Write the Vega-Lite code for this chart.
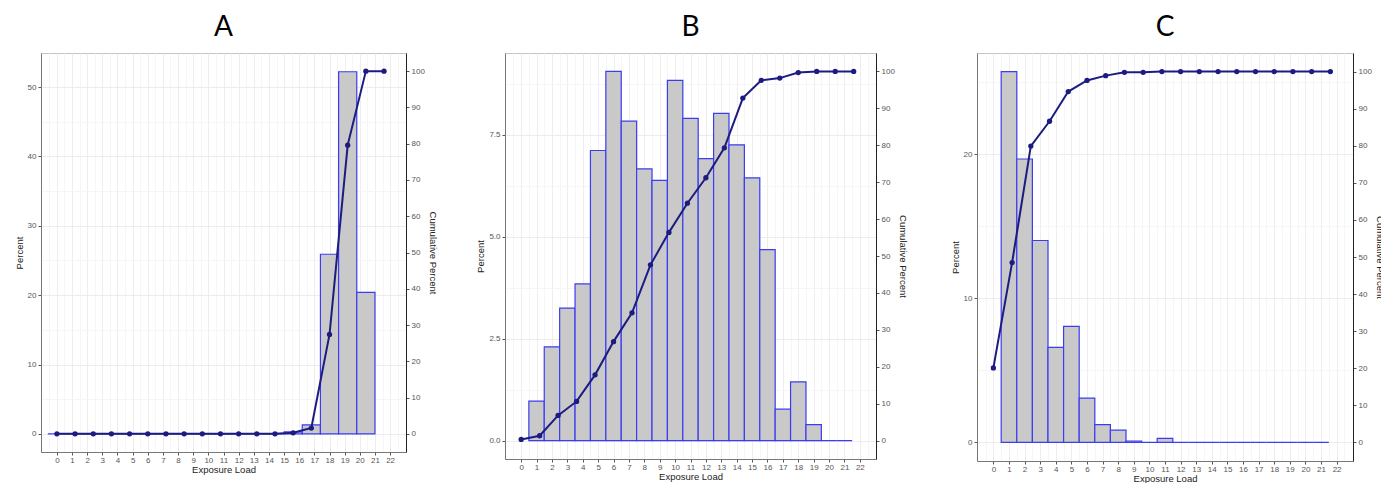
{
  "$schema": "https://vega.github.io/schema/vega-lite/v6.json",
  "padding": {"left": 13, "top": 13, "right": 0, "bottom": 0},
  "spacing": 37,
  "background": "white",
  "datasets": {
    "A_bar": [
      {"lo": -0.6, "hi": 0.6, "pct": 0}, {"lo": 0.6, "hi": 1.8, "pct": 0}, {"lo": 1.8, "hi": 3.0, "pct": 0},
      {"lo": 3.0, "hi": 4.2, "pct": 0}, {"lo": 4.2, "hi": 5.4, "pct": 0}, {"lo": 5.4, "hi": 6.6, "pct": 0},
      {"lo": 6.6, "hi": 7.8, "pct": 0}, {"lo": 7.8, "hi": 9.0, "pct": 0}, {"lo": 9.0, "hi": 10.2, "pct": 0},
      {"lo": 10.2, "hi": 11.4, "pct": 0}, {"lo": 11.4, "hi": 12.6, "pct": 0}, {"lo": 12.6, "hi": 13.8, "pct": 0},
      {"lo": 13.8, "hi": 15.0, "pct": 0}, {"lo": 15.0, "hi": 16.2, "pct": 0.3}, {"lo": 16.2, "hi": 17.4, "pct": 1.3},
      {"lo": 17.4, "hi": 18.6, "pct": 25.9}, {"lo": 18.6, "hi": 19.8, "pct": 52.2}, {"lo": 19.8, "hi": 21.0, "pct": 20.4}
    ],
    "A_cum": [
      {"load": 0, "cum": 0}, {"load": 1.2, "cum": 0}, {"load": 2.4, "cum": 0}, {"load": 3.6, "cum": 0},
      {"load": 4.8, "cum": 0}, {"load": 6.0, "cum": 0}, {"load": 7.2, "cum": 0}, {"load": 8.4, "cum": 0},
      {"load": 9.6, "cum": 0}, {"load": 10.8, "cum": 0}, {"load": 12.0, "cum": 0}, {"load": 13.2, "cum": 0},
      {"load": 14.4, "cum": 0}, {"load": 15.6, "cum": 0.3}, {"load": 16.8, "cum": 1.6}, {"load": 18.0, "cum": 27.4},
      {"load": 19.2, "cum": 79.6}, {"load": 20.4, "cum": 100}, {"load": 21.6, "cum": 100}
    ],
    "B_bar": [
      {"lo": 0.5, "hi": 1.5, "pct": 0.97}, {"lo": 1.5, "hi": 2.5, "pct": 2.3}, {"lo": 2.5, "hi": 3.5, "pct": 3.25},
      {"lo": 3.5, "hi": 4.5, "pct": 3.84}, {"lo": 4.5, "hi": 5.5, "pct": 7.11}, {"lo": 5.5, "hi": 6.5, "pct": 9.05},
      {"lo": 6.5, "hi": 7.5, "pct": 7.83}, {"lo": 7.5, "hi": 8.5, "pct": 6.66}, {"lo": 8.5, "hi": 9.5, "pct": 6.38},
      {"lo": 9.5, "hi": 10.5, "pct": 8.83}, {"lo": 10.5, "hi": 11.5, "pct": 7.9}, {"lo": 11.5, "hi": 12.5, "pct": 6.91},
      {"lo": 12.5, "hi": 13.5, "pct": 8.02}, {"lo": 13.5, "hi": 14.5, "pct": 7.25}, {"lo": 14.5, "hi": 15.5, "pct": 6.44},
      {"lo": 15.5, "hi": 16.5, "pct": 4.68}, {"lo": 16.5, "hi": 17.5, "pct": 0.77}, {"lo": 17.5, "hi": 18.5, "pct": 1.44},
      {"lo": 18.5, "hi": 19.5, "pct": 0.39}, {"lo": 19.5, "hi": 20.5, "pct": 0}, {"lo": 20.5, "hi": 21.5, "pct": 0}
    ],
    "B_cum": [
      {"load": 0, "cum": 0.3}, {"load": 1.2, "cum": 1.3}, {"load": 2.4, "cum": 6.8}, {"load": 3.6, "cum": 10.6},
      {"load": 4.8, "cum": 17.8}, {"load": 6.0, "cum": 26.8}, {"load": 7.2, "cum": 34.6}, {"load": 8.4, "cum": 47.6},
      {"load": 9.6, "cum": 56.4}, {"load": 10.8, "cum": 64.3}, {"load": 12.0, "cum": 71.2}, {"load": 13.2, "cum": 79.3},
      {"load": 14.4, "cum": 92.8}, {"load": 15.6, "cum": 97.6}, {"load": 16.8, "cum": 98.2}, {"load": 18.0, "cum": 99.7},
      {"load": 19.2, "cum": 100}, {"load": 20.4, "cum": 100}, {"load": 21.6, "cum": 100}
    ],
    "C_bar": [
      {"lo": 0.5, "hi": 1.5, "pct": 25.75}, {"lo": 1.5, "hi": 2.5, "pct": 19.68}, {"lo": 2.5, "hi": 3.5, "pct": 14.02},
      {"lo": 3.5, "hi": 4.5, "pct": 6.6}, {"lo": 4.5, "hi": 5.5, "pct": 8.06}, {"lo": 5.5, "hi": 6.5, "pct": 3.08},
      {"lo": 6.5, "hi": 7.5, "pct": 1.24}, {"lo": 7.5, "hi": 8.5, "pct": 0.85}, {"lo": 8.5, "hi": 9.5, "pct": 0.1},
      {"lo": 9.5, "hi": 10.5, "pct": 0}, {"lo": 10.5, "hi": 11.5, "pct": 0.28}, {"lo": 11.5, "hi": 12.5, "pct": 0},
      {"lo": 12.5, "hi": 13.5, "pct": 0}, {"lo": 13.5, "hi": 14.5, "pct": 0}, {"lo": 14.5, "hi": 15.5, "pct": 0},
      {"lo": 15.5, "hi": 16.5, "pct": 0}, {"lo": 16.5, "hi": 17.5, "pct": 0}, {"lo": 17.5, "hi": 18.5, "pct": 0},
      {"lo": 18.5, "hi": 19.5, "pct": 0}, {"lo": 19.5, "hi": 20.5, "pct": 0}, {"lo": 20.5, "hi": 21.5, "pct": 0}
    ],
    "C_cum": [
      {"load": 0, "cum": 20.1}, {"load": 1.2, "cum": 48.5}, {"load": 2.4, "cum": 79.9}, {"load": 3.6, "cum": 86.6},
      {"load": 4.8, "cum": 94.6}, {"load": 6.0, "cum": 97.6}, {"load": 7.2, "cum": 98.9}, {"load": 8.4, "cum": 99.8},
      {"load": 9.6, "cum": 99.8}, {"load": 10.8, "cum": 100}, {"load": 12.0, "cum": 100}, {"load": 13.2, "cum": 100},
      {"load": 14.4, "cum": 100}, {"load": 15.6, "cum": 100}, {"load": 16.8, "cum": 100}, {"load": 18.0, "cum": 100},
      {"load": 19.2, "cum": 100}, {"load": 20.4, "cum": 100}, {"load": 21.6, "cum": 100}
    ]
  },
  "hconcat": [
    {
      "title": "A",
      "width": 365,
      "height": 399,
      "resolve": {"scale": {"y": "independent"}, "axis": {"y": "independent"}},
      "layer": [
        {
          "data": {"name": "A_bar"},
          "mark": {"type": "bar", "fill": "#c9c9c9", "stroke": "#3c3cf0", "strokeWidth": 1.2},
          "encoding": {
            "x": {"field": "lo", "type": "quantitative", "scale": {"domain": [-1.05, 23.05], "nice": false, "zero": false},
              "axis": {"title": "Exposure Load", "values": [-0.5,0,0.5,1,1.5,2,2.5,3,3.5,4,4.5,5,5.5,6,6.5,7,7.5,8,8.5,9,9.5,10,10.5,11,11.5,12,12.5,13,13.5,14,14.5,15,15.5,16,16.5,17,17.5,18,18.5,19,19.5,20,20.5,21,21.5,22,22.5],
                "labelExpr": "datum.value % 1 === 0 ? format(datum.value, 'd') : ''", "labelOverlap": false, "labelFlush": false,
                "tickOpacity": {"condition": {"test": "datum.value % 1 !== 0", "value": 0}, "value": 1},
                "gridColor": {"condition": {"test": "datum.value % 1 !== 0", "value": "#f4f4f4"}, "value": "#e9e9e9"}}},
            "x2": {"field": "hi"},
            "y": {"field": "pct", "type": "quantitative", "scale": {"domain": [-2.6, 54.9], "nice": false, "zero": false},
              "axis": {"title": "Percent", "orient": "left", "values": [0,5,10,15,20,25,30,35,40,45,50],
                "labelExpr": "datum.value % 10 === 0 ? format(datum.value, 'd') : ''",
                "tickOpacity": {"condition": {"test": "datum.value % 10 !== 0", "value": 0}, "value": 1},
                "gridColor": {"condition": {"test": "datum.value % 10 !== 0", "value": "#f4f4f4"}, "value": "#e9e9e9"}}},
            "y2": {"datum": 0}
          }
        },
        {
          "data": {"name": "A_cum"},
          "layer": [
            {"mark": {"type": "line", "color": "#1c1c80", "strokeWidth": 2}, "encoding": {}},
            {"mark": {"type": "point", "filled": true, "color": "#1c1c80", "size": 28, "opacity": 1}, "encoding": {}}
          ],
          "encoding": {
            "x": {"field": "load", "type": "quantitative",
              "axis": {"title": "Exposure Load", "values": [-0.5,0,0.5,1,1.5,2,2.5,3,3.5,4,4.5,5,5.5,6,6.5,7,7.5,8,8.5,9,9.5,10,10.5,11,11.5,12,12.5,13,13.5,14,14.5,15,15.5,16,16.5,17,17.5,18,18.5,19,19.5,20,20.5,21,21.5,22,22.5],
                "labelExpr": "datum.value % 1 === 0 ? format(datum.value, 'd') : ''", "labelOverlap": false, "labelFlush": false,
                "tickOpacity": {"condition": {"test": "datum.value % 1 !== 0", "value": 0}, "value": 1},
                "gridColor": {"condition": {"test": "datum.value % 1 !== 0", "value": "#f4f4f4"}, "value": "#e9e9e9"}}},
            "y": {"field": "cum", "type": "quantitative", "scale": {"domain": [-5, 105], "nice": false, "zero": false},
              "axis": {"title": "Cumulative Percent", "orient": "right", "values": [0,10,20,30,40,50,60,70,80,90,100], "grid": false, "domainColor": "#222"}}
          }
        }
      ]
    },
    {
      "spacing": 41,
      "hconcat": [
        {
          "title": "B",
          "width": 371,
          "height": 406,
          "resolve": {"scale": {"y": "independent"}, "axis": {"y": "independent"}},
          "layer": [
            {
              "data": {"name": "B_bar"},
              "mark": {"type": "bar", "fill": "#c9c9c9", "stroke": "#3c3cf0", "strokeWidth": 1.2},
              "encoding": {
                "x": {"field": "lo", "type": "quantitative", "scale": {"domain": [-1.05, 23.05], "nice": false, "zero": false},
                  "axis": {"title": "Exposure Load", "values": [-0.5,0,0.5,1,1.5,2,2.5,3,3.5,4,4.5,5,5.5,6,6.5,7,7.5,8,8.5,9,9.5,10,10.5,11,11.5,12,12.5,13,13.5,14,14.5,15,15.5,16,16.5,17,17.5,18,18.5,19,19.5,20,20.5,21,21.5,22,22.5],
                    "labelExpr": "datum.value % 1 === 0 ? format(datum.value, 'd') : ''", "labelOverlap": false, "labelFlush": false,
                    "tickOpacity": {"condition": {"test": "datum.value % 1 !== 0", "value": 0}, "value": 1},
                    "gridColor": {"condition": {"test": "datum.value % 1 !== 0", "value": "#f4f4f4"}, "value": "#e9e9e9"}}},
                "x2": {"field": "hi"},
                "y": {"field": "pct", "type": "quantitative", "scale": {"domain": [-0.45, 9.5], "nice": false, "zero": false},
                  "axis": {"title": "Percent", "orient": "left", "values": [0,1.25,2.5,3.75,5,6.25,7.5,8.75],
                    "labelExpr": "datum.value % 2.5 === 0 ? format(datum.value, '.1f') : ''",
                    "tickOpacity": {"condition": {"test": "datum.value % 2.5 !== 0", "value": 0}, "value": 1},
                    "gridColor": {"condition": {"test": "datum.value % 2.5 !== 0", "value": "#f4f4f4"}, "value": "#e9e9e9"}}},
                "y2": {"datum": 0}
              }
            },
            {
              "data": {"name": "B_cum"},
              "layer": [
                {"mark": {"type": "line", "color": "#1c1c80", "strokeWidth": 2}, "encoding": {}},
                {"mark": {"type": "point", "filled": true, "color": "#1c1c80", "size": 28, "opacity": 1}, "encoding": {}}
              ],
              "encoding": {
                "x": {"field": "load", "type": "quantitative",
                  "axis": {"title": "Exposure Load", "values": [-0.5,0,0.5,1,1.5,2,2.5,3,3.5,4,4.5,5,5.5,6,6.5,7,7.5,8,8.5,9,9.5,10,10.5,11,11.5,12,12.5,13,13.5,14,14.5,15,15.5,16,16.5,17,17.5,18,18.5,19,19.5,20,20.5,21,21.5,22,22.5],
                    "labelExpr": "datum.value % 1 === 0 ? format(datum.value, 'd') : ''", "labelOverlap": false, "labelFlush": false,
                    "tickOpacity": {"condition": {"test": "datum.value % 1 !== 0", "value": 0}, "value": 1},
                    "gridColor": {"condition": {"test": "datum.value % 1 !== 0", "value": "#f4f4f4"}, "value": "#e9e9e9"}}},
                "y": {"field": "cum", "type": "quantitative", "scale": {"domain": [-5, 105], "nice": false, "zero": false},
                  "axis": {"title": "Cumulative Percent", "orient": "right", "values": [0,10,20,30,40,50,60,70,80,90,100], "grid": false, "domainColor": "#222"}}
              }
            }
          ]
        },
        {
          "title": "C",
          "width": 376,
          "height": 408,
          "resolve": {"scale": {"y": "independent"}, "axis": {"y": "independent"}},
          "layer": [
            {
              "data": {"name": "C_bar"},
              "mark": {"type": "bar", "fill": "#c9c9c9", "stroke": "#3c3cf0", "strokeWidth": 1.2},
              "encoding": {
                "x": {"field": "lo", "type": "quantitative", "scale": {"domain": [-1.05, 23.05], "nice": false, "zero": false},
                  "axis": {"title": "Exposure Load", "values": [-0.5,0,0.5,1,1.5,2,2.5,3,3.5,4,4.5,5,5.5,6,6.5,7,7.5,8,8.5,9,9.5,10,10.5,11,11.5,12,12.5,13,13.5,14,14.5,15,15.5,16,16.5,17,17.5,18,18.5,19,19.5,20,20.5,21,21.5,22,22.5],
                    "labelExpr": "datum.value % 1 === 0 ? format(datum.value, 'd') : ''", "labelOverlap": false, "labelFlush": false,
                    "tickOpacity": {"condition": {"test": "datum.value % 1 !== 0", "value": 0}, "value": 1},
                    "gridColor": {"condition": {"test": "datum.value % 1 !== 0", "value": "#f4f4f4"}, "value": "#e9e9e9"}}},
                "x2": {"field": "hi"},
                "y": {"field": "pct", "type": "quantitative", "scale": {"domain": [-1.29, 27.04], "nice": false, "zero": false},
                  "axis": {"title": "Percent", "orient": "left", "values": [0,5,10,15,20,25],
                    "labelExpr": "datum.value % 10 === 0 ? format(datum.value, 'd') : ''",
                    "tickOpacity": {"condition": {"test": "datum.value % 10 !== 0", "value": 0}, "value": 1},
                    "gridColor": {"condition": {"test": "datum.value % 10 !== 0", "value": "#f4f4f4"}, "value": "#e9e9e9"}}},
                "y2": {"datum": 0}
              }
            },
            {
              "data": {"name": "C_cum"},
              "layer": [
                {"mark": {"type": "line", "color": "#1c1c80", "strokeWidth": 2}, "encoding": {}},
                {"mark": {"type": "point", "filled": true, "color": "#1c1c80", "size": 28, "opacity": 1}, "encoding": {}}
              ],
              "encoding": {
                "x": {"field": "load", "type": "quantitative",
                  "axis": {"title": "Exposure Load", "values": [-0.5,0,0.5,1,1.5,2,2.5,3,3.5,4,4.5,5,5.5,6,6.5,7,7.5,8,8.5,9,9.5,10,10.5,11,11.5,12,12.5,13,13.5,14,14.5,15,15.5,16,16.5,17,17.5,18,18.5,19,19.5,20,20.5,21,21.5,22,22.5],
                    "labelExpr": "datum.value % 1 === 0 ? format(datum.value, 'd') : ''", "labelOverlap": false, "labelFlush": false,
                    "tickOpacity": {"condition": {"test": "datum.value % 1 !== 0", "value": 0}, "value": 1},
                    "gridColor": {"condition": {"test": "datum.value % 1 !== 0", "value": "#f4f4f4"}, "value": "#e9e9e9"}}},
                "y": {"field": "cum", "type": "quantitative", "scale": {"domain": [-5, 105], "nice": false, "zero": false},
                  "axis": {"title": "Cumulative Percent", "orient": "right", "values": [0,10,20,30,40,50,60,70,80,90,100], "grid": false, "domainColor": "#222"}}
              }
            }
          ]
        }
      ]
    }
  ],
  "config": {
    "view": {"stroke": "#c4c4c4", "strokeWidth": 1},
    "axis": {"labelFont": "Liberation Sans", "titleFont": "Liberation Sans", "labelFontSize": 8, "labelColor": "#555555",
      "titleFontSize": 9.5, "titleFontWeight": "normal", "titleColor": "#222222", "tickColor": "#555555", "tickSize": 3,
      "labelPadding": 2, "titlePadding": 3, "domainColor": "#777777", "gridWidth": 0.8, "gridColor": "#ebebeb"},
    "axisX": {"labelPadding": 1, "titlePadding": 0},
    "title": {"font": "Lato", "fontSize": 28, "fontWeight": "normal", "color": "#000000", "offset": 11}
  }
}
